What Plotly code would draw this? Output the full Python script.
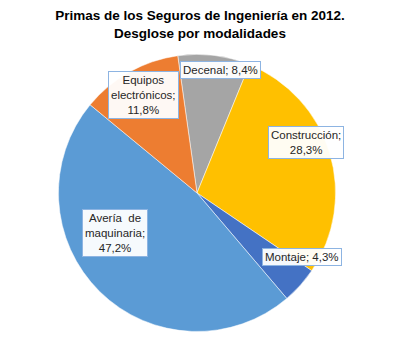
import plotly.graph_objects as go

categories = ["Decenal", "Construcción", "Montaje", "Avería de maquinaria", "Equipos electrónicos"]
label_lines = ["Decenal;", "Construcción;<br>", "Montaje;", "Avería  de<br>maquinaria;<br>", "Equipos<br>electrónicos;<br>"]
values = [8.4, 28.3, 4.3, 47.2, 11.8]
colors = ["#A5A5A5", "#FFC000", "#4472C4", "#5B9BD5", "#ED7D31"]
# label centre positions (paper coords)
label_pos = [(0.55, 0.795), (0.765, 0.582), (0.755, 0.245), (0.2875, 0.315), (0.358, 0.72)]

fig = go.Figure(go.Pie(
    labels=categories,
    values=values,
    sort=False,
    direction="clockwise",
    rotation=-8,
    marker=dict(colors=colors, line=dict(color="rgba(255,255,255,0.5)", width=1)),
    textinfo="none",
    hoverinfo="label+percent",
    showlegend=False,
    domain=dict(x=[0.0, 0.985], y=[0.025, 0.84]),
))

for lab, v, (px, py) in zip(label_lines, values, label_pos):
    sep = "" if lab.endswith("<br>") else " "
    txt = f"{lab}{sep}{str(v).replace('.', ',')}%"
    fig.add_annotation(
        x=px, y=py, xref="paper", yref="paper", xanchor="center", yanchor="middle",
        text=txt, showarrow=False,
        font=dict(family="Liberation Sans, Arial, sans-serif", size=11.5, color="#262626"),
        bgcolor="rgba(255,255,255,0.95)", bordercolor="#8DB4E2", borderwidth=1, borderpad=2,
        align="center",
    )

fig.update_layout(
    width=400, height=340,
    margin=dict(l=0, r=0, t=0, b=0),
    paper_bgcolor="white",
    plot_bgcolor="white",
    title=dict(
        text="<b>Primas de los Seguros de Ingeniería en 2012.<br>Desglose por modalidades</b>",
        x=0.5, y=0.94, xanchor="center", yanchor="top",
        font=dict(family="Liberation Sans, Arial, sans-serif", size=13.5, color="#000000"),
    ),
)

fig.write_html("out.html")
